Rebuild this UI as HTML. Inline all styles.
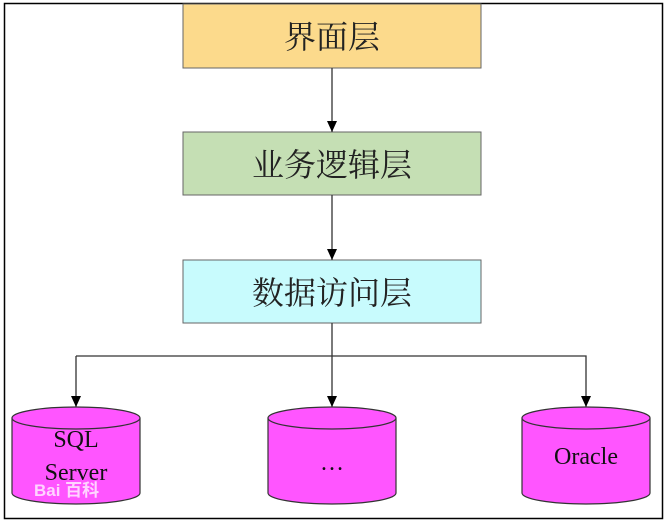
<!DOCTYPE html>
<html><head><meta charset="utf-8"><style>
html,body{margin:0;padding:0;background:#fff;}
svg{display:block;}
</style></head><body>
<svg width="667" height="524" viewBox="0 0 667 524" xmlns="http://www.w3.org/2000/svg">
<defs><marker id="a" markerWidth="12" markerHeight="12" refX="11" refY="5" orient="auto" markerUnits="userSpaceOnUse"><path d="M0,0 L11,5 L0,10 z" fill="#000"/></marker></defs>
<rect x="4.5" y="3.5" width="658" height="515" fill="#fff" stroke="#000" stroke-width="1.5"/>
<g font-family="'Liberation Serif','Noto Serif CJK SC',serif" font-size="32" text-anchor="middle" fill="#222">
<rect x="183" y="4" width="298" height="64" fill="#fcda8c" stroke="#666"/>
<text x="332" y="48">界面层</text>
<rect x="183" y="132" width="298" height="63" fill="#c5dfb4" stroke="#666"/>
<text x="332" y="176">业务逻辑层</text>
<rect x="183" y="260" width="298" height="63" fill="#c8fbfd" stroke="#666"/>
<text x="332" y="304">数据访问层</text>
</g>
<g stroke="#333" stroke-width="1.3" fill="none">
<line x1="332" y1="68" x2="332" y2="132" marker-end="url(#a)"/>
<line x1="332" y1="195" x2="332" y2="260" marker-end="url(#a)"/>
<line x1="332" y1="323" x2="332" y2="407" marker-end="url(#a)"/>
<polyline points="76,356 586,356 586,407" marker-end="url(#a)"/>
<line x1="76" y1="356" x2="76" y2="407" marker-end="url(#a)"/>
</g>
<g stroke="#333" stroke-width="1.2" fill="#ff55ff">
<path d="M12,418 L12,493 A64,11 0 0 0 140,493 L140,418"/>
<ellipse cx="76" cy="418" rx="64" ry="11"/>
<path d="M268,418 L268,493 A64,11 0 0 0 396,493 L396,418"/>
<ellipse cx="332" cy="418" rx="64" ry="11"/>
<path d="M522,418 L522,493 A64,11 0 0 0 650,493 L650,418"/>
<ellipse cx="586" cy="418" rx="64" ry="11"/>
</g>
<g font-family="'Liberation Serif',serif" font-size="24" text-anchor="middle" fill="#111">
<text x="76" y="447">SQL</text>
<text x="76" y="480">Server</text>
<text x="332" y="470">…</text>
<text x="586" y="464">Oracle</text>
</g>
<text x="34" y="496" font-family="'Liberation Sans','Noto Sans CJK SC',sans-serif" font-size="17" font-weight="bold" fill="#fff" fill-opacity="0.75">Bai 百科</text>
</svg>
</body></html>
